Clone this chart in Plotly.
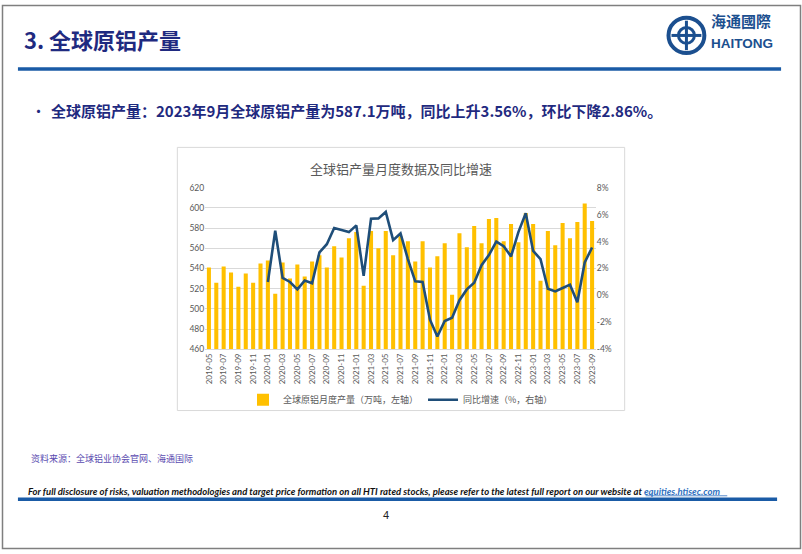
import plotly.graph_objects as go

W, H = 802, 554

# ---------------- data ----------------
months = [f"{y}-{m:02d}" for y in range(2019, 2024) for m in range(1, 13)]
months = [m for m in months if "2019-05" <= m <= "2023-09"]

production = [541, 526, 542, 536, 522, 535, 526, 545,
              548, 515, 546, 530, 544, 532, 547, 553, 541, 562, 551, 570,
              576, 523, 577, 560, 577, 553, 572, 567, 547, 567, 541, 552,
              565, 514, 575, 561, 582, 565, 589, 590, 567, 584, 566, 595,
              584, 528, 577, 563, 585, 570, 586, 604.4, 587.1]

yoy = [None] * 8 + [
    1.0, 4.8, 1.3, 1.0, 0.45, 1.1, 0.9, 3.2, 3.8, 5.0, 4.85, 4.7,
    5.2, 1.45, 5.7, 5.72, 6.2, 4.1, 4.6, 2.7, 1.05, 1.0, -1.8, -3.05,
    -1.9, -1.65, -0.35, 0.45, 0.95, 2.25, 3.0, 4.0, 3.65, 2.9, 4.7, 6.1,
    3.3, 2.7, 0.5, 0.3, 0.55, 0.8, -0.5, 2.45, 3.56]

tick_labels = months[::2]
left_ticks = [460, 480, 500, 520, 540, 560, 580, 600, 620]
right_ticks = [-4, -2, 0, 2, 4, 6, 8]
right_tick_text = [f"{v}%" for v in right_ticks]

# ---------------- helpers ----------------
def px(x):
    return x / W

def py(y):
    return 1 - y / H

CJK = "Noto Sans CJK SC"
NAVY = "#1F2A80"
RULE = "#1A5BA6"
BAR = "#FFC000"
LINE = "#1F4E79"
GRAY = "#595959"
LOGO = "#1B4F8F"

fig = go.Figure()
fig.add_trace(go.Bar(
    x=months, y=production, name="全球原铝月度产量（万吨，左轴）",
    marker=dict(color=BAR, line=dict(width=0)), yaxis="y"))
fig.add_trace(go.Scatter(
    x=months, y=yoy, name="同比增速（%，右轴）", mode="lines",
    line=dict(color=LINE, width=2.6), yaxis="y2", connectgaps=False))

fig.update_layout(
    width=W, height=H, margin=dict(l=0, r=0, t=0, b=0),
    paper_bgcolor="white", plot_bgcolor="white",
    bargap=0.45, showlegend=True,
    font=dict(family=CJK, color=GRAY, size=9),
    xaxis=dict(domain=[px(204), px(596)], type="category",
               tickmode="array", tickvals=tick_labels, ticktext=tick_labels,
               tickangle=-90, tickfont=dict(family="Lato", size=8, color=GRAY),
               showgrid=False, showline=True, linecolor="#D9D9D9", linewidth=1,
               ticks="", fixedrange=True),
    yaxis=dict(domain=[py(350.7), py(186)], range=[460, 620],
               tickvals=left_ticks, showgrid=True, gridcolor="#D9D9D9",
               gridwidth=1, zeroline=False, showline=False,
               tickfont=dict(family="Lato", size=8.5, color=GRAY)),
    yaxis2=dict(overlaying="y", side="right", range=[-4, 8],
                tickmode="array", tickvals=right_ticks, ticktext=right_tick_text,
                showgrid=False, zeroline=False, showline=False,
                tickfont=dict(family="Lato", size=8.5, color=GRAY)),
    legend=dict(orientation="h", x=px(400), xanchor="center",
                y=py(402), yanchor="middle", bgcolor="rgba(0,0,0,0)",
                font=dict(family=CJK, size=9, color=GRAY),
                itemwidth=30, tracegroupgap=0),
)

shapes = []
# page border
shapes.append(dict(type="rect", xref="paper", yref="paper",
                   x0=px(0.5), x1=px(801.5), y0=py(553.5), y1=py(0.5),
                   line=dict(color="#7F7F7F", width=1.5)))
# top rule
shapes.append(dict(type="rect", xref="paper", yref="paper",
                   x0=px(16), x1=px(782), y0=py(67), y1=py(63.5),
                   line=dict(width=0), fillcolor=RULE))
# footer rule
shapes.append(dict(type="rect", xref="paper", yref="paper",
                   x0=px(16), x1=px(778), y0=py(505), y1=py(501.5),
                   line=dict(width=0), fillcolor=RULE))
# chart box
shapes.append(dict(type="rect", xref="paper", yref="paper",
                   x0=px(176), x1=px(625), y0=py(413), y1=py(145),
                   line=dict(color="#D9D9D9", width=1), layer="below"))
# link underline
shapes.append(dict(type="line", xref="paper", yref="paper",
                   x0=px(646), x1=px(728), y0=py(499.8), y1=py(499.8),
                   line=dict(color="#2E6FC0", width=0.8)))
# logo
shapes.append(dict(type="circle", xref="paper", yref="paper",
                   x0=px(669), x1=px(705), y0=py(49), y1=py(13),
                   line=dict(color=LOGO, width=4), fillcolor="white"))
shapes.append(dict(type="circle", xref="paper", yref="paper",
                   x0=px(679), x1=px(695), y0=py(39), y1=py(23),
                   line=dict(color=LOGO, width=3), fillcolor="white"))
shapes.append(dict(type="line", xref="paper", yref="paper",
                   x0=px(687), x1=px(687), y0=py(16), y1=py(46),
                   line=dict(color=LOGO, width=3)))
shapes.append(dict(type="line", xref="paper", yref="paper",
                   x0=px(672), x1=px(702), y0=py(31), y1=py(31),
                   line=dict(color=LOGO, width=3)))
fig.update_layout(shapes=shapes)

ann = []
def text(x, y, s, size, color, family=CJK, xanchor="left", yanchor="middle"):
    ann.append(dict(x=px(x), y=py(y), xref="paper", yref="paper", text=s,
                    showarrow=False, xanchor=xanchor, yanchor=yanchor,
                    font=dict(family=family, size=size, color=color)))

text(20, 35, "<b>3. 全球原铝产量</b>", 22, NAVY)
text(710, 29, "<b>海通國際</b>", 15, LOGO, yanchor="bottom")
text(710, 30, "<b>HAITONG</b>", 13.5, LOGO, family="Liberation Sans", yanchor="top")
text(27, 107, "•", 15, NAVY)
text(47, 107, "<b>全球原铝产量：2023年9月全球原铝产量为587.1万吨，同比上升3.56%，环比下降2.86%。</b>",
     15, NAVY)
text(400, 167, "全球铝产量月度数据及同比增速", 13, GRAY, xanchor="center")
text(27, 462, "资料来源：全球铝业协会官网、海通国际", 9, "#5B4BB0")
text(24, 495,
     "<b><i>For full disclosure of risks, valuation methodologies and target price formation on all HTI rated stocks, "
     "please refer to the latest full report on our website at "
     "<span style='color:#2E6FC0'>equities.htisec.com</span></i></b>",
     9.5, "#111111", family="Lato")
text(385, 519, "4", 11, "#222222", family="Liberation Sans", xanchor="center")
fig.update_layout(annotations=ann)

fig.write_html("out.html", config={"displayModeBar": False},
               post_script="document.body.style.margin='0';document.body.style.overflow='hidden';")
